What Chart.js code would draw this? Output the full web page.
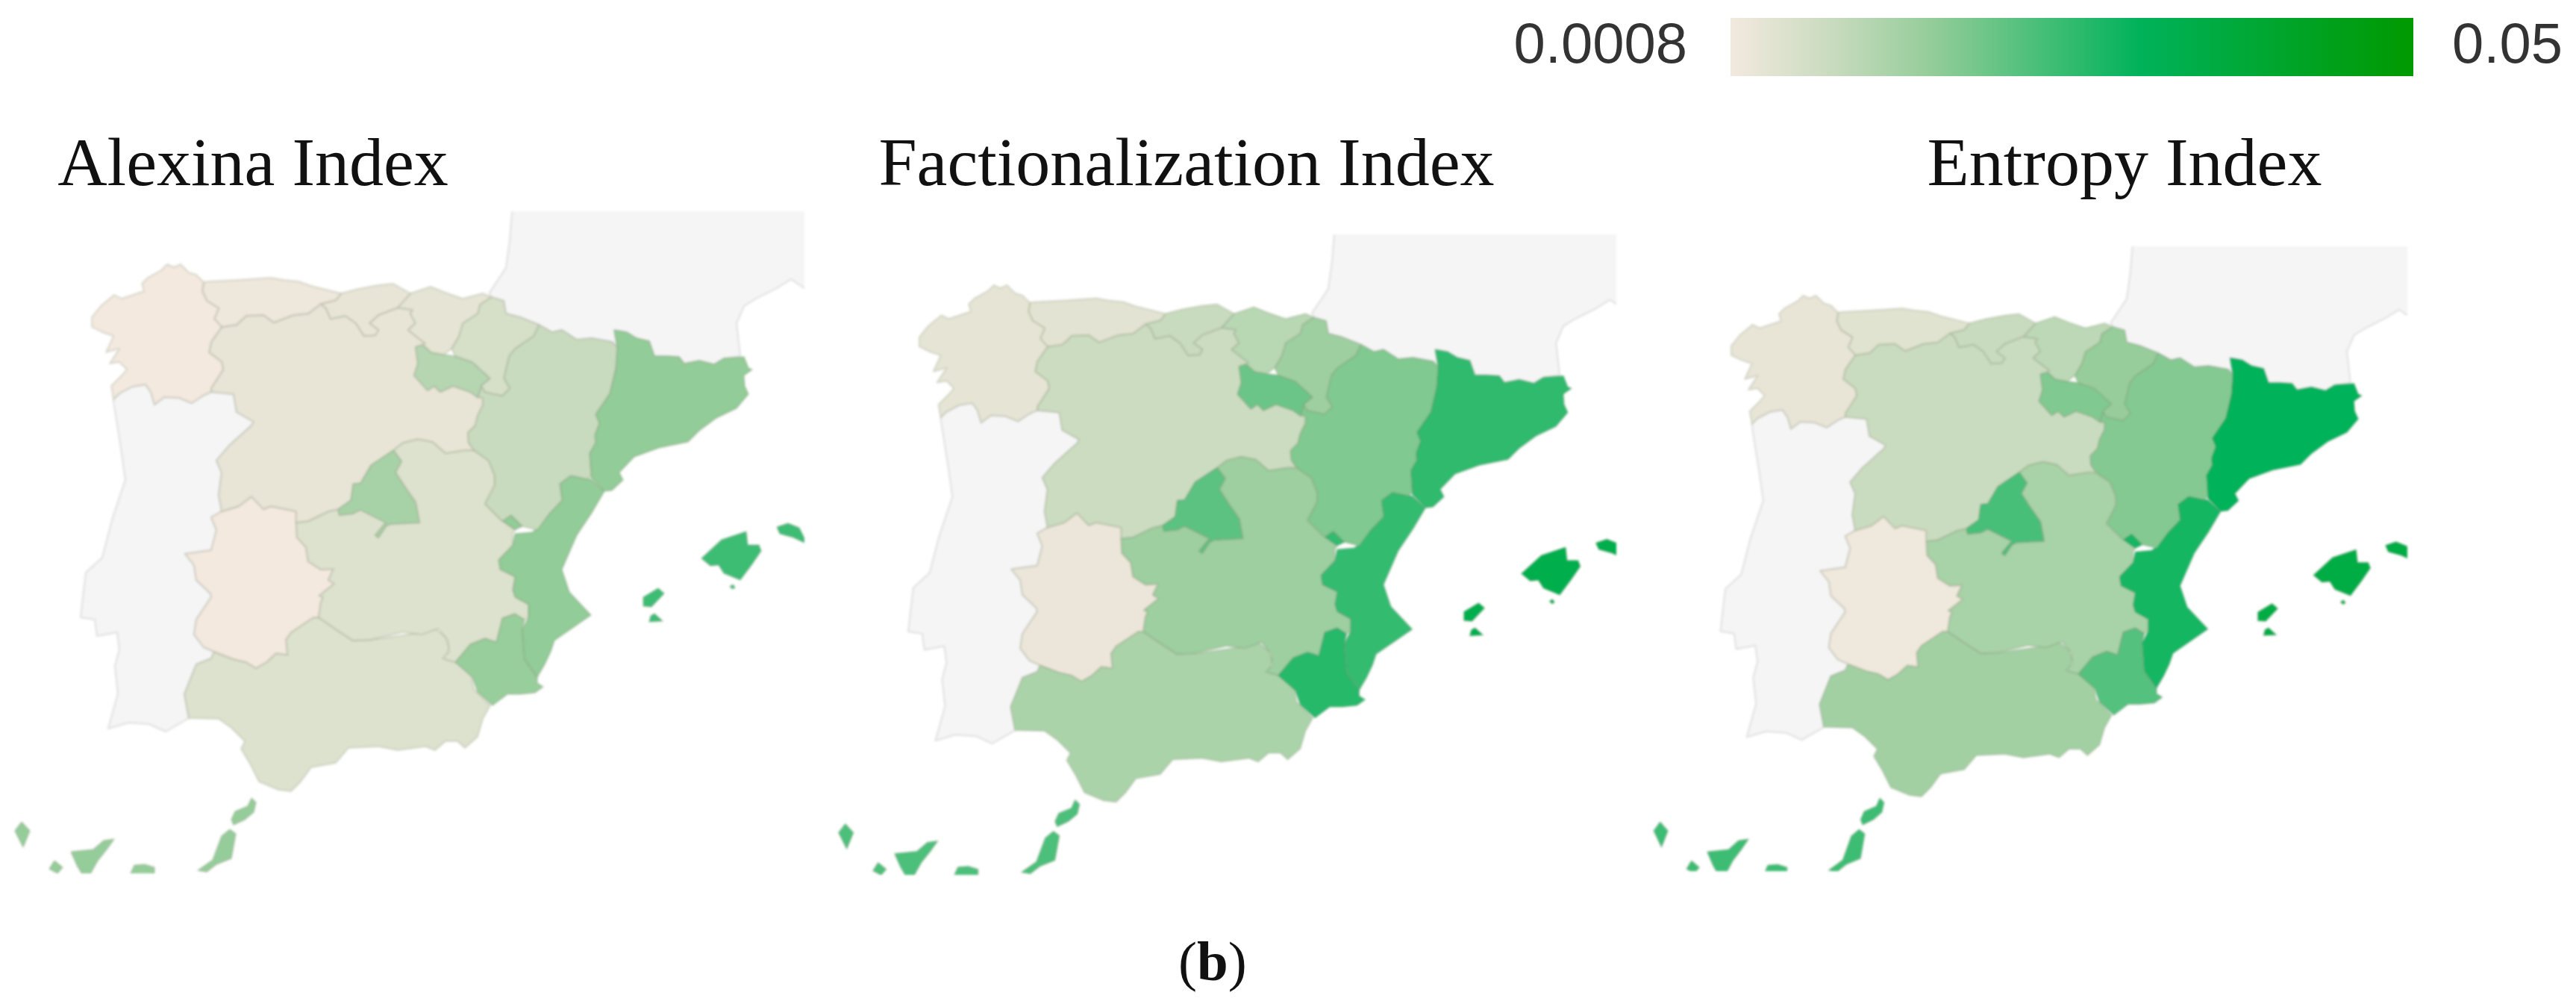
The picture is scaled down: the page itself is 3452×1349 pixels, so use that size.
<!DOCTYPE html>
<html>
<head>
<meta charset="utf-8">
<title>Spain index maps</title>
<script src="https://cdn.jsdelivr.net/npm/chart.js@4/dist/chart.umd.js"></script>
<style>
  html, body { margin: 0; padding: 0; background: #fff; overflow: hidden; }
  body { position: relative; width: 3452px; height: 1349px; }
  canvas { position: absolute; display: block; }
  canvas.soft { filter: blur(1.5px); }
  #caption { position: absolute; left: 1579px; top: 1250px; font: 75px/1 "Liberation Serif", serif; color: #111; }
</style>
</head>
<body>
<div id="caption">(<b>b</b>)</div>
<script>
// colour scale
const scaleMin = 0.0008;
const scaleMax = 0.05;
const colorStopPositions = [0, 0.15, 0.3, 0.6, 1];
const colorStopColors = [[243, 233, 223], [200, 219, 190], [146, 204, 152], [0, 178, 90], [0, 153, 0]];

const indexTitles = ['Alexina Index', 'Factionalization Index', 'Entropy Index'];

// values per region
const regionNames = ['Galicia', 'Asturias', 'Cantabria', 'Basque Country', 'Navarra', 'La Rioja', 'Aragon', 'Catalonia', 'Castilla y Leon', 'Madrid', 'Castilla-La Mancha', 'Extremadura', 'Valencia', 'Murcia', 'Andalusia', 'Balearic Islands', 'Canary Islands'];
const alexinaValues = [0.0008, 0.0016, 0.0027, 0.0030, 0.0057, 0.0106, 0.0080, 0.0156, 0.0027, 0.0127, 0.0046, 0.0008, 0.0156, 0.0147, 0.0046, 0.0242, 0.0151];
const factionalizationValues = [0.0030, 0.0038, 0.0082, 0.0103, 0.0139, 0.0194, 0.0174, 0.0256, 0.0077, 0.0210, 0.0141, 0.0022, 0.0252, 0.0265, 0.0121, 0.0333, 0.0226];
const entropyValues = [0.0027, 0.0042, 0.0082, 0.0098, 0.0150, 0.0174, 0.0170, 0.0303, 0.0078, 0.0230, 0.0126, 0.0015, 0.0283, 0.0217, 0.0134, 0.0352, 0.0243];
const indexValues = [alexinaValues, factionalizationValues, entropyValues];

// outlines in map units
const galicia = [[216,362],[224,354],[233,358],[242,354],[253,365],[263,368],[273,378],[271,390],[277,403],[293,413],[287,427],[297,438],[283,458],[280,472],[297,485],[299,495],[283,520],[283,525],[272,530],[257,540],[240,533],[220,532],[207,542],[202,525],[195,515],[177,518],[160,527],[152,535],[149,517],[163,503],[170,495],[160,485],[147,487],[160,467],[142,472],[152,450],[137,445],[123,438],[123,425],[135,410],[153,395],[163,400],[193,390],[190,380],[198,372]];
const asturias = [[273,378],[280,377],[320,375],[363,372],[380,375],[400,377],[417,383],[457,393],[450,402],[430,407],[413,420],[393,422],[367,432],[353,422],[330,423],[317,435],[297,438],[287,427],[293,413],[277,403],[271,390]];
const cantabria = [[457,393],[480,387],[507,382],[527,380],[550,393],[533,412],[507,422],[495,433],[507,442],[503,449],[488,450],[477,433],[463,423],[443,427],[437,413],[430,407],[450,402]];
const basque = [[550,393],[577,384],[597,392],[620,400],[647,393],[658,398],[643,408],[640,420],[620,433],[615,450],[605,467],[595,475],[578,472],[567,462],[570,460],[557,450],[547,442],[557,433],[550,420],[553,415],[533,412]];
const navarra = [[658,398],[675,403],[678,420],[697,425],[722,435],[715,450],[690,467],[682,477],[675,507],[683,520],[673,530],[650,525],[645,517],[657,507],[633,485],[610,477],[605,467],[615,450],[620,433],[640,420],[643,408]];
const rioja = [[557,465],[567,462],[578,472],[595,475],[610,477],[633,485],[657,507],[645,517],[640,532],[630,525],[607,517],[590,525],[582,517],[573,523],[555,503],[560,487]];
const aragon = [[722,435],[740,445],[753,442],[773,455],[793,453],[820,458],[827,465],[825,493],[817,527],[798,555],[803,567],[797,583],[798,593],[790,607],[792,637],[787,642],[765,637],[750,648],[753,670],[737,687],[720,710],[700,705],[685,690],[673,698],[650,675],[663,650],[663,637],[655,617],[635,603],[628,593],[627,580],[637,570],[640,557],[647,543],[647,533],[640,532],[645,517],[650,525],[673,530],[683,520],[675,507],[682,477],[690,467],[715,450]];
const catalonia = [[823,442],[840,445],[853,453],[870,457],[877,477],[893,477],[910,478],[917,487],[937,483],[957,488],[970,480],[997,478],[1003,493],[1008,495],[997,503],[998,517],[1003,528],[987,547],[960,560],[937,577],[922,592],[883,600],[850,612],[830,633],[835,643],[820,657],[810,658],[792,640],[790,607],[798,593],[797,583],[803,567],[798,555],[817,527],[825,493],[827,465]];
const castillaLeon = [[297,438],[317,435],[330,423],[353,422],[367,432],[393,422],[413,420],[430,407],[437,413],[443,427],[463,423],[477,433],[488,450],[503,449],[507,442],[495,433],[507,422],[533,412],[553,415],[550,420],[557,433],[547,442],[557,450],[570,460],[557,465],[560,487],[555,503],[573,523],[582,517],[590,525],[607,517],[630,525],[640,532],[647,533],[647,543],[640,557],[637,570],[627,580],[628,593],[635,603],[623,603],[597,607],[580,592],[560,588],[540,593],[527,603],[497,623],[483,647],[473,648],[470,670],[453,682],[440,685],[413,698],[397,700],[397,685],[363,678],[353,682],[337,665],[320,678],[297,685],[293,663],[297,633],[290,617],[307,597],[337,570],[340,565],[317,552],[313,528],[283,525],[283,520],[299,495],[297,485],[280,472],[283,458]];
const madrid = [[527,603],[538,618],[530,633],[543,653],[557,673],[562,700],[523,702],[517,705],[507,720],[503,717],[517,700],[483,683],[473,688],[455,690],[453,682],[470,670],[473,648],[483,647],[497,623]];
const laMancha = [[527,603],[540,593],[560,588],[580,592],[597,607],[623,603],[635,603],[655,617],[663,637],[663,650],[650,675],[673,698],[690,710],[687,715],[687,730],[668,750],[670,763],[690,773],[687,790],[690,800],[708,810],[708,827],[703,830],[690,822],[673,828],[665,860],[650,855],[630,863],[610,887],[593,882],[602,873],[600,857],[587,842],[565,850],[540,847],[497,857],[473,858],[450,843],[427,827],[430,807],[433,800],[428,798],[448,782],[440,777],[447,762],[430,763],[413,752],[410,733],[398,720],[397,700],[413,698],[440,685],[453,682],[455,690],[473,688],[483,683],[517,700],[503,717],[507,720],[517,705],[523,702],[562,700],[557,673],[543,653],[530,633],[538,618]];
const extremadura = [[337,665],[353,682],[363,678],[397,685],[397,700],[398,720],[410,733],[413,752],[430,763],[447,762],[440,777],[448,782],[428,798],[433,800],[430,807],[427,827],[420,827],[390,847],[383,857],[385,877],[370,875],[357,887],[343,895],[330,887],[313,883],[287,873],[273,867],[260,850],[263,830],[283,800],[282,795],[263,777],[260,757],[248,742],[283,737],[290,710],[283,693],[297,685],[320,678]];
const valencia = [[765,637],[792,642],[810,658],[793,687],[773,717],[753,763],[763,793],[792,824],[743,858],[738,873],[730,890],[720,907],[703,883],[700,843],[708,827],[708,810],[690,800],[687,790],[690,773],[670,763],[668,750],[687,730],[690,715],[713,713],[717,710],[737,687],[753,670],[750,648]];
const ademuz = [[673,698],[685,690],[700,705],[690,710]];
const murcia = [[610,887],[630,863],[650,855],[665,860],[673,828],[690,822],[703,830],[700,843],[703,883],[720,907],[720,915],[728,920],[717,928],[697,930],[680,930],[660,945],[640,927],[633,907]];
const andalusia = [[427,827],[450,843],[473,858],[497,857],[533,852],[560,848],[583,842],[597,853],[602,867],[597,883],[612,887],[632,905],[635,923],[657,945],[647,963],[640,987],[623,1002],[613,993],[597,993],[583,1005],[570,1000],[533,1005],[507,1000],[467,1002],[450,1022],[417,1028],[403,1047],[390,1060],[373,1058],[347,1047],[335,1023],[323,1003],[328,993],[310,975],[293,963],[253,962],[247,930],[263,890],[283,882],[287,873],[313,883],[330,887],[343,895],[357,887],[370,875],[385,877],[383,857],[390,847],[420,827]];
const mallorca = [[1000,712],[1002,730],[1017,730],[1020,738],[1007,757],[992,777],[970,768],[963,757],[952,758],[940,748],[967,723]];
const menorca = [[1041,706],[1056,701],[1071,707],[1082,729],[1063,720],[1045,715]];
const ibiza = [[882,788],[890,795],[873,813],[862,812],[862,800]];
const formentera = [[877,822],[888,832],[870,833],[872,825]];
const cabrera = [[982,783],[985,787],[982,789],[978,786]];
const laPalma = [[29,1101],[40,1113],[31,1135],[20,1113]];
const tenerife = [[95,1141],[125,1138],[139,1126],[153,1124],[143,1138],[131,1153],[121,1171],[110,1171],[103,1159]];
const elHierro = [[73,1153],[84,1162],[77,1170],[66,1164]];
const granCanaria = [[180,1159],[194,1158],[207,1162],[207,1180],[176,1180],[175,1170]];
const fuerteventura = [[308,1111],[316,1117],[310,1150],[290,1158],[277,1168],[265,1166],[285,1152],[297,1120]];
const lanzarote = [[337,1069],[343,1075],[340,1088],[328,1098],[313,1105],[310,1098],[315,1087],[332,1080]];
const portugal = [[152,535],[160,527],[177,518],[195,515],[202,525],[207,542],[220,532],[240,533],[257,540],[272,530],[283,525],[313,528],[317,552],[340,565],[337,570],[307,597],[290,617],[297,633],[293,663],[297,685],[283,693],[290,710],[283,737],[248,742],[260,757],[263,777],[282,795],[283,800],[263,830],[260,850],[273,867],[287,873],[283,882],[263,890],[247,930],[253,962],[222,980],[200,970],[172,968],[145,976],[158,929],[154,892],[160,870],[157,847],[130,852],[127,830],[108,827],[115,767],[137,747],[150,697],[168,643],[162,600],[153,543]];
const france = [[690,240],[1200,240],[1200,386],[1078,386],[1060,374],[1041,386],[1013,400],[997,410],[987,433],[992,477],[970,480],[957,488],[937,483],[917,487],[910,478],[893,477],[877,477],[870,457],[853,453],[840,445],[823,442],[827,465],[820,458],[793,453],[773,455],[753,442],[740,445],[722,435],[697,425],[678,420],[675,403],[658,398],[656,392],[678,359],[683,323]];

// outlines of each region, same order as regionNames
const regionShapes = [[galicia], [asturias], [cantabria], [basque], [navarra], [rioja], [aragon], [catalonia], [castillaLeon], [madrid], [laMancha], [extremadura], [valencia, ademuz], [murcia], [andalusia], [mallorca, menorca, ibiza, formentera, cabrera], [laPalma, tenerife, elHierro, granCanaria, fuerteventura, lanzarote]];
const canaryIndex = 16;
const backgroundShapes = [portugal, france];

// page layout of the three maps, in px
// main/inset turn map units into page px, area is where the map gets cut off
const panels = [
  { titleCenter: 339, area: { left: 0, right: 1078, top: 283, bottom: 1170 },
    main: { ox: 0, oy: 0, sx: 1, sy: 1 }, inset: { ox: 0, oy: 0, sx: 1, sy: 1 } },
  { titleCenter: 1590, area: { left: 1118, right: 2166, top: 314, bottom: 1172 },
    main: { ox: 1110.4, oy: 34.65, sx: 0.9876, sy: 0.981 }, inset: { ox: 1103.7, oy: 2.4, sx: 1, sy: 1 } },
  { titleCenter: 2847, area: { left: 2200, right: 3226, top: 330, bottom: 1167 },
    main: { ox: 2202.4, oy: 59.1, sx: 0.955, sy: 0.9511 }, inset: { ox: 2196.9, oy: 0, sx: 0.956, sy: 1 } },
];
const titleTop = 169;
const titleSize = 92;
const titleWidth = 900;

function valueColor(value) {
  const t = Math.min(1, Math.max(0, (value - scaleMin) / (scaleMax - scaleMin)));
  let i = 0;
  while (i < colorStopPositions.length - 2 && t > colorStopPositions[i + 1]) i++;
  const f = (t - colorStopPositions[i]) / (colorStopPositions[i + 1] - colorStopPositions[i]);
  const c = colorStopColors[i].map((a, k) => Math.round(a + (colorStopColors[i + 1][k] - a) * f));
  return `rgb(${c[0]}, ${c[1]}, ${c[2]})`;
}

function shapeDataset(label, shape, fillColor, lineColor, inset) {
  const points = shape.concat([shape[0]]).map(p => ({ x: p[0], y: p[1] }));
  return {
    label: label,
    data: points,
    showLine: true,
    fill: 'shape',
    tension: 0,
    pointRadius: 0,
    borderWidth: 2.5,
    borderJoinStyle: 'round',
    backgroundColor: fillColor,
    borderColor: lineColor,
    xAxisID: inset ? 'xInset' : 'x',
    yAxisID: inset ? 'yInset' : 'y',
  };
}

function hiddenScale(axis, t, area) {
  const horizontal = axis === 'x';
  const start = horizontal ? area.left : area.top;
  const end = horizontal ? area.right : area.bottom;
  const o = horizontal ? t.ox : t.oy;
  const s = horizontal ? t.sx : t.sy;
  return { type: 'linear', display: false, axis: axis, reverse: !horizontal, min: (start - o) / s, max: (end - o) / s };
}

function addCanvas(left, top, width, height, soft) {
  const canvas = document.createElement('canvas');
  canvas.width = width;
  canvas.height = height;
  canvas.style.left = left + 'px';
  canvas.style.top = top + 'px';
  canvas.style.width = width + 'px';
  canvas.style.height = height + 'px';
  if (soft) canvas.className = 'soft';
  document.body.appendChild(canvas);
  return canvas;
}

panels.forEach((panel, p) => {
  const area = panel.area;

  const datasets = [];
  regionShapes.forEach((shapes, r) => {
    shapes.forEach(shape => {
      datasets.push(shapeDataset(regionNames[r], shape, valueColor(indexValues[p][r]), 'rgba(120, 130, 100, 0.2)', r === canaryIndex));
    });
  });
  backgroundShapes.forEach(shape => {
    datasets.push(shapeDataset('Other', shape, '#f5f5f5', '#e4e4e4', false));
  });

  new Chart(addCanvas(area.left, area.top, area.right - area.left, area.bottom - area.top, true), {
    type: 'scatter',
    data: { datasets: datasets },
    options: {
      responsive: false,
      animation: false,
      devicePixelRatio: 1,
      plugins: { legend: { display: false }, tooltip: { enabled: false } },
      scales: {
        x: hiddenScale('x', panel.main, area),
        y: hiddenScale('y', panel.main, area),
        xInset: hiddenScale('x', panel.inset, area),
        yInset: hiddenScale('y', panel.inset, area),
      },
    },
  });

  // title sits on its own canvas so it stays sharp
  new Chart(addCanvas(panel.titleCenter - titleWidth / 2, titleTop, titleWidth, 114, false), {
    type: 'scatter',
    data: { datasets: [] },
    options: {
      responsive: false,
      animation: false,
      devicePixelRatio: 1,
      scales: { x: { display: false }, y: { display: false } },
      plugins: {
        legend: { display: false },
        tooltip: { enabled: false },
        title: {
          display: true,
          text: indexTitles[p],
          color: '#111',
          font: { family: '"Liberation Serif", serif', size: titleSize, weight: 'normal' },
          padding: 0,
        },
      },
    },
  });
});

// colour bar
const barLeft = 2319;
const barRight = 3234;
const barTop = 24;
const barBottom = 102;
const barCanvasLeft = 2000;
const barTickFont = { family: '"Liberation Sans", sans-serif', size: 76 };

// the big tick labels must not push the bar's area in
function fitBarAxis(scale, width) {
  scale.width = width;
  scale.paddingTop = 0;
  scale.paddingBottom = 0;
}

new Chart(addCanvas(barCanvasLeft, 0, 3452 - barCanvasLeft, 126, false), {
  type: 'bar',
  data: {
    labels: ['0.0008'],
    datasets: [{
      data: [[scaleMin, scaleMax]],
      barPercentage: 1,
      categoryPercentage: 1,
      backgroundColor(ctx) {
        const chartArea = ctx.chart.chartArea;
        if (!chartArea) return '#fff';
        const gradient = ctx.chart.ctx.createLinearGradient(chartArea.left, 0, chartArea.right, 0);
        colorStopPositions.forEach((pos, i) => {
          const c = colorStopColors[i];
          gradient.addColorStop(pos, `rgb(${c[0]}, ${c[1]}, ${c[2]})`);
        });
        return gradient;
      },
    }],
  },
  options: {
    indexAxis: 'y',
    responsive: false,
    animation: false,
    devicePixelRatio: 1,
    layout: { padding: { top: barTop, bottom: 126 - barBottom } },
    plugins: { legend: { display: false }, tooltip: { enabled: false } },
    scales: {
      x: { type: 'linear', display: false, min: scaleMin, max: scaleMax },
      y: {
        type: 'category',
        position: 'left',
        offset: true,
        grid: { display: false },
        border: { display: false },
        ticks: { padding: 50, color: '#333', font: barTickFont },
        afterFit(scale) { fitBarAxis(scale, barLeft - barCanvasLeft); },
      },
      yRight: {
        type: 'category',
        position: 'right',
        offset: true,
        labels: ['0.05'],
        grid: { display: false },
        border: { display: false },
        ticks: { padding: 44, color: '#333', font: barTickFont },
        afterFit(scale) { fitBarAxis(scale, 3452 - barRight); },
      },
    },
  },
});
</script>
</body>
</html>
